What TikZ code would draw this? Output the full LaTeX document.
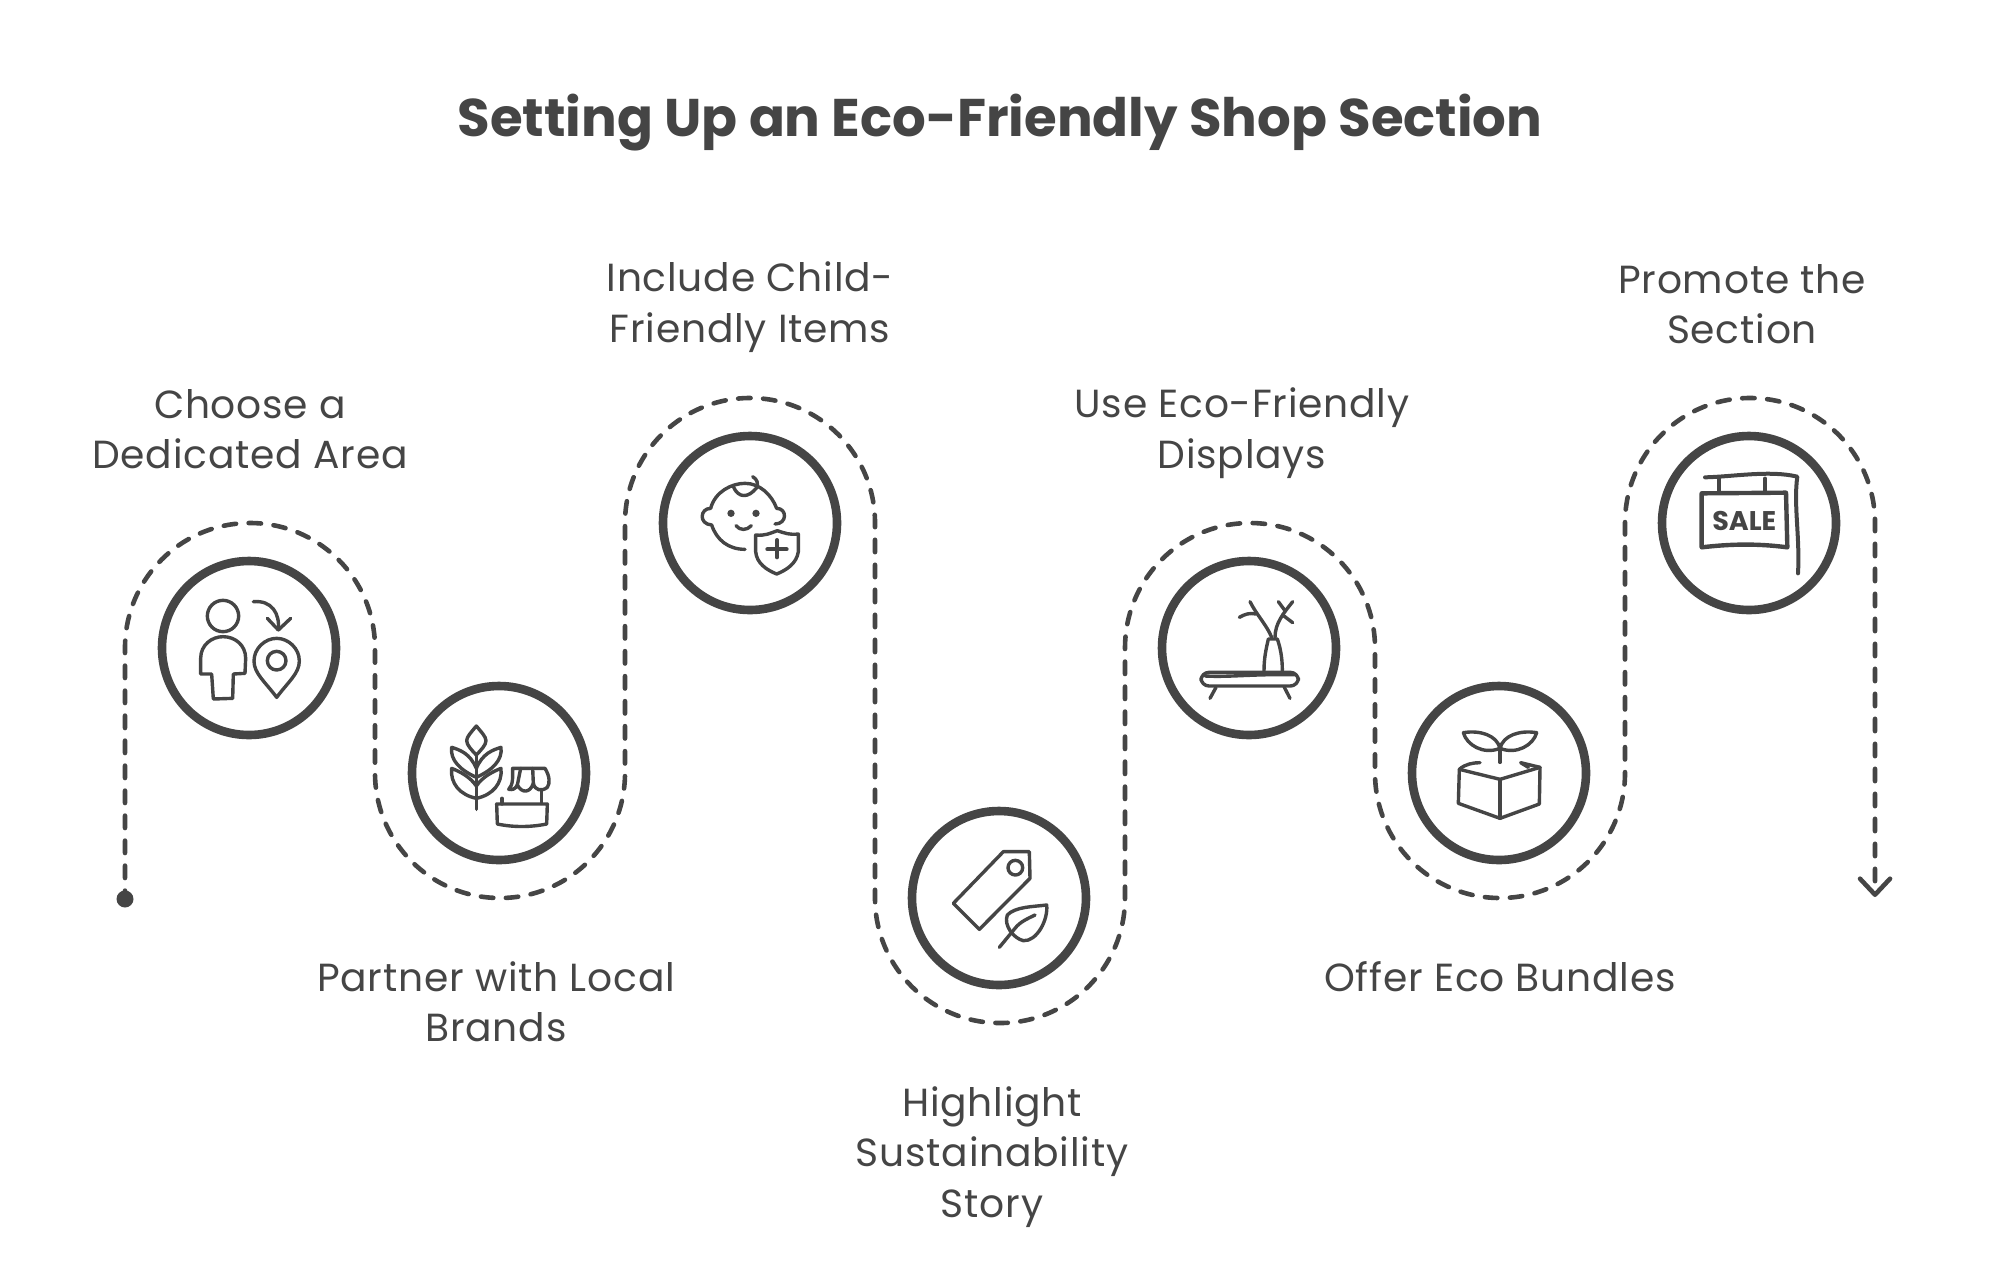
\documentclass[tikz,border=0pt]{standalone}
\usepackage{fontspec}
\setmainfont{Poppins}
\newfontfamily\labelfont[LetterSpace=2]{Poppins}
\usetikzlibrary{arrows.meta}
\definecolor{ink}{HTML}{454545}
\tikzset{
  x=0.5pt,y=-0.5pt,
  stepring/.style={circle,draw=ink,line width=4.3pt,minimum size=87pt,inner sep=0pt,outer sep=0pt},
  flowline/.style={draw=ink,line width=2.3pt,line cap=round,dash pattern=on 6.2pt off 6.3pt,dash phase=2pt},
  startdot/.style={circle,fill=ink,minimum size=8.5pt,inner sep=0pt,outer sep=0pt},
  label/.style={text=ink,align=center,font=\labelfont\fontsize{19.6}{25.2}\selectfont,inner sep=0pt},
  headline/.style={text=ink,font=\bfseries\fontsize{26.5}{32}\selectfont,inner sep=0pt},
  icon/.style={draw=ink,line width=1.7pt,line cap=round,line join=round},
  iconfill/.style={fill=ink,draw=none},
}
\begin{document}
\begin{tikzpicture}
\useasboundingbox (0,0) rectangle (2000,1275);
\node[headline] (title) at (1000,123) {Setting Up an Eco-Friendly Shop Section};
\node[stepring] (c1) at (249,648) {};
\node[stepring] (c2) at (499,773) {};
\node[stepring] (c3) at (750,523) {};
\node[stepring] (c4) at (999,898) {};
\node[stepring] (c5) at (1249,648) {};
\node[stepring] (c6) at (1499,773) {};
\node[stepring] (c7) at (1749,523) {};
\node[startdot] (start) at (125,899) {};
\coordinate (end) at (1875,897);
\draw[flowline,-{Straight Barb[length=8pt,width=15pt,line width=2.3pt,round]}] (start.center) -- (125,648) arc (180:360:125) -- (375,773) arc (180:0:125) -- (625,523) arc (180:360:125) -- (875,898) arc (180:0:125) -- (1125,648) arc (180:360:125) -- (1375,773) arc (180:0:125) -- (1625,523) arc (180:360:125) -- (end);
\node[label] (t1) at (250,429) {Choose a\\Dedicated Area};
\node[label] (t2) at (496,1002) {Partner with Local\\Brands};
\node[label] (t3) at (750,307) {Include Child-\\Friendly Items};
\node[label] (t4) at (992,1157) {Highlight\\Sustainability\\Story};
\node[label] (t5) at (1242,433) {Use Eco-Friendly\\Displays};
\node[label] (t6) at (1500,977) {Offer Eco Bundles};
\node[label] (t7) at (1742,304) {Promote the\\Section};
% icons 1 and 2
\begin{scope}[shift={(150,550)},scale=1/3]
\draw[icon] (219,198) circle (47);
\draw[icon] (152,372) -- (152,325) .. controls (152,285) and (185,260) .. (219,260) .. controls (255,260) and (287,285) .. (287,325) -- (285,370) -- (250,372) -- (248,445) -- (190,447) -- (185,372) -- cycle;
\draw[icon] (310,155) .. controls (365,150) and (390,190) .. (385,240);
\draw[icon] (352,205) -- (385,240) -- (422,205);
\draw[icon] (380,442) .. controls (345,395) and (312,370) .. (312,333) .. controls (312,295) and (345,265) .. (380,265) .. controls (415,265) and (448,295) .. (448,333) .. controls (448,370) and (415,395) .. (380,442) -- cycle;
\draw[icon] (380,332) circle (28);
\draw[icon] (979,615) -- (979,778);
\draw[icon] (979,528) .. controls (965,545) and (950,560) .. (950,572) .. controls (950,585) and (965,600) .. (979,615) .. controls (993,600) and (1008,585) .. (1008,572) .. controls (1008,560) and (993,545) .. (979,528) -- cycle;
\draw[icon] (979,655) .. controls (960,610) and (930,600) .. (905,592) .. controls (900,630) and (930,660) .. (979,682);
\draw[icon] (979,655) .. controls (998,610) and (1028,600) .. (1053,592) .. controls (1058,630) and (1028,660) .. (979,682);
\draw[icon] (979,708) .. controls (960,680) and (930,665) .. (905,655) .. controls (900,700) and (930,735) .. (979,745);
\draw[icon] (979,708) .. controls (998,680) and (1028,665) .. (1053,655) .. controls (1058,700) and (1028,735) .. (979,745);
\draw[icon] (1076,718) .. controls (1090,705) and (1088,680) .. (1088,655) -- (1185,655) .. controls (1200,680) and (1200,700) .. (1192,712) .. controls (1175,725) and (1155,722) .. (1150,700) .. controls (1140,730) and (1115,730) .. (1102,705) .. controls (1095,718) and (1088,720) .. (1076,718);
\draw[icon] (1102,705) -- (1112,655);
\draw[icon] (1150,700) -- (1148,655);
\draw[icon] (1175,722) -- (1175,760);
\draw[icon] (1056,745) -- (1056,762);
\draw[icon] (1040,762) -- (1192,762) -- (1190,822) .. controls (1140,832) and (1090,832) .. (1042,822) -- cycle;
\end{scope}
% icon 3
\begin{scope}[shift={(650,420)},scale=1/3]
\draw[icon] (182,265) .. controls (150,265) and (145,312) .. (185,315) .. controls (200,360) and (235,388) .. (285,388);
\draw[icon] (182,265) .. controls (195,215) and (245,190) .. (285,190) .. controls (330,190) and (365,225) .. (380,265) .. controls (412,265) and (412,312) .. (375,312);
\draw[icon] (250,200) .. controls (265,235) and (295,235) .. (320,203) .. controls (325,190) and (322,178) .. (308,170);
\fill[iconfill] (243,280) circle (11);
\fill[iconfill] (318,280) circle (11);
\draw[icon] (258,317) .. controls (270,332) and (290,332) .. (304,317);
\draw[icon] (317,345) .. controls (345,348) and (360,340) .. (382,332) .. controls (405,340) and (420,345) .. (445,342) -- (445,395) .. controls (440,430) and (410,450) .. (380,462) .. controls (350,450) and (320,430) .. (317,395) -- cycle;
\draw[icon,line width=2pt] (352,388) -- (410,388);
\draw[icon,line width=2pt] (381,360) -- (381,412);
\end{scope}
% icon 4
\begin{scope}[shift={(900,800)},scale=1/3]
\draw[icon] (160,310) -- (310,155) -- (388,155) -- (390,235) -- (238,388) -- cycle;
\draw[icon] (346,203) circle (22);
\draw[icon] (322,345) .. controls (345,320) and (400,320) .. (440,315) .. controls (445,360) and (410,425) .. (370,422) .. controls (340,415) and (310,375) .. (322,345) -- cycle;
\draw[icon] (298,442) -- (345,385) .. controls (360,365) and (385,355) .. (405,345);
\end{scope}
% icon 5
\begin{scope}[shift={(1150,550)},scale=1/3]
\draw[icon,rounded corners=4pt] (153,367) rectangle (445,408);
\draw[icon] (165,378) .. controls (240,382) and (300,372) .. (435,374);
\draw[icon] (198,412) -- (180,445);
\draw[icon] (402,410) -- (420,445);
\draw[icon] (342,362) .. controls (342,320) and (350,290) .. (355,267) -- (382,267) .. controls (390,290) and (397,320) .. (397,362);
\draw[icon] (365,262) .. controls (350,225) and (320,195) .. (300,155);
\draw[icon] (318,192) .. controls (300,188) and (285,192) .. (268,202);
\draw[icon] (375,262) .. controls (375,220) and (400,190) .. (428,155);
\draw[icon] (385,155) -- (405,182);
\draw[icon] (398,195) -- (428,218);
\end{scope}
% icon 6
\begin{scope}[shift={(1400,680)},scale=1/3]
\draw[icon] (300,205) -- (300,247);
\draw[icon] (300,205) .. controls (290,165) and (240,150) .. (190,158) .. controls (200,195) and (250,225) .. (300,205);
\draw[icon] (300,205) .. controls (310,165) and (360,150) .. (410,158) .. controls (400,195) and (350,225) .. (300,205);
\draw[icon] (178,268) -- (300,298) -- (420,262);
\draw[icon] (178,268) -- (175,370) -- (300,415) -- (418,372) -- (420,262);
\draw[icon] (300,298) -- (300,415);
\draw[icon] (178,268) .. controls (195,252) and (220,248) .. (240,248);
\draw[icon] (420,262) -- (362,248) -- (385,262);
\end{scope}
% icon 7
\begin{scope}[shift={(1650,420)},scale=1/3]
\draw[icon,line width=2pt] (165,172) .. controls (250,170) and (360,150) .. (442,170) .. controls (430,250) and (450,350) .. (444,460);
\draw[icon] (207,175) -- (207,215);
\draw[icon] (345,175) -- (345,215);
\draw[icon,line width=2.2pt] (155,220) -- (408,218) -- (412,382) .. controls (320,370) and (240,372) .. (155,382) -- cycle;
\node[text=ink,font=\bfseries\fontsize{13.5}{14}\selectfont,inner sep=0pt] (sale) at (283,303) {SALE};
\end{scope}
\end{tikzpicture}
\end{document}
